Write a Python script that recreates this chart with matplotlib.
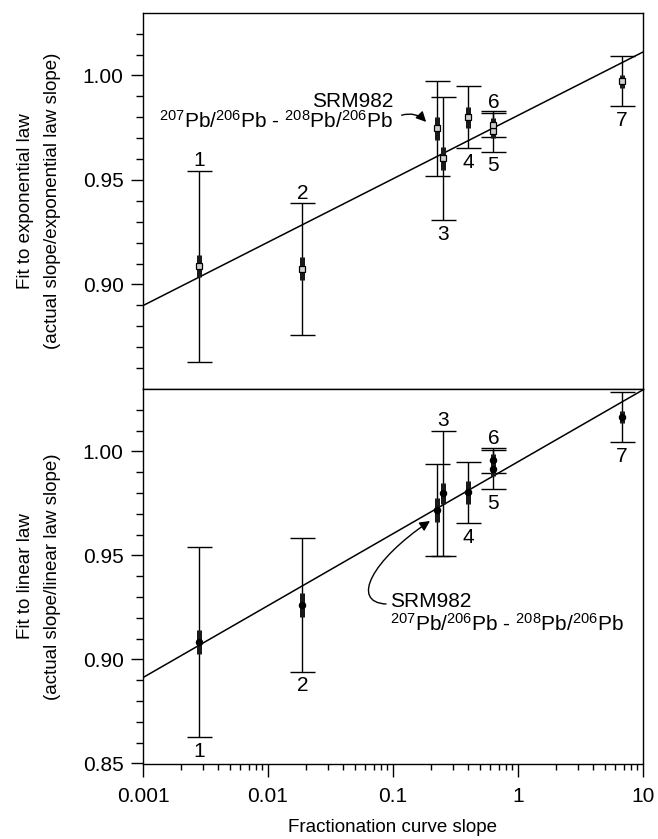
import numpy as np
import matplotlib
matplotlib.use('Agg')
import matplotlib.pyplot as plt
from matplotlib.ticker import FixedLocator, LogLocator, NullFormatter, FormatStrFormatter
from matplotlib.patches import FancyArrowPatch
from matplotlib.path import Path

plt.rcParams['font.family'] = ['Liberation Sans', 'DejaVu Sans']
plt.rcParams['mathtext.fontset'] = 'custom'
plt.rcParams['mathtext.rm'] = 'Liberation Sans'
plt.rcParams['mathtext.it'] = 'Liberation Sans:italic'
plt.rcParams['mathtext.bf'] = 'Liberation Sans:bold'

# ---------------- data ----------------
point_labels = ['1', '2', '3', '4', '5', '6', '7']
frac_slope = [0.0028, 0.0188, 0.253, 0.40, 0.635, 0.635, 6.76]

exp_fit = [0.9087, 0.9075, 0.9604, 0.9800, 0.9732, 0.9764, 0.9972]
exp_err_outer = [0.0458, 0.0315, 0.0294, 0.0148, 0.0096, 0.0058, 0.0119]
exp_err_inner = [0.0053, 0.0055, 0.0055, 0.0050, 0.0030, 0.0030, 0.0030]

lin_fit = [0.9084, 0.9262, 0.9798, 0.9803, 0.9914, 0.9957, 1.0165]
lin_err_outer = [0.0458, 0.0320, 0.0302, 0.0147, 0.0094, 0.0059, 0.0120]
lin_err_inner = [0.0056, 0.0057, 0.0052, 0.0055, 0.0030, 0.0030, 0.0030]

srm_slope = [0.226]
srm_exp = [0.9747]
srm_exp_outer = [0.0227]
srm_exp_inner = [0.0056]
srm_lin = [0.9717]
srm_lin_outer = [0.0221]
srm_lin_inner = [0.0057]

fit_x = [0.001, 10]
exp_line = [0.8899, 1.0112]
lin_line = [0.8913, 1.0296]

exp_label_side = ['above', 'above', 'below', 'below', 'below', 'above', 'below']
lin_label_side = ['below', 'below', 'above', 'below', 'below', 'above', 'below']

# ---------------- figure ----------------
W, H = 658, 839
fig = plt.figure(figsize=(W / 100, H / 100), dpi=100)

def fx(px):
    return px / W

def fy(py):
    return 1 - py / H

left, right = 143, 643
top1, mid, bot2 = 12.7, 389, 763.5
ax1 = fig.add_axes([fx(left), fy(mid), (right - left) / W, (mid - top1) / H])
ax2 = fig.add_axes([fx(left), fy(bot2), (right - left) / W, (bot2 - mid) / H])

def style_axis(ax, majors, show_x):
    ax.set_xscale('log')
    ax.set_xlim(0.001, 10)
    ax.set_ylim(0.85, 1.03)
    ax.yaxis.set_major_locator(FixedLocator(majors))
    minors = [round(v, 2) for v in np.arange(0.86, 1.025, 0.01)
              if all(abs(v - m) > 1e-6 for m in majors)]
    ax.yaxis.set_minor_locator(FixedLocator(minors))
    ax.yaxis.set_major_formatter(FormatStrFormatter('%.2f'))
    for s in ax.spines.values():
        s.set_linewidth(1.0)
    ax.tick_params(axis='y', which='major', direction='out', length=9, width=1,
                   labelsize=15, pad=5, right=False)
    ax.tick_params(axis='y', which='minor', direction='out', length=4.8, width=1,
                   right=False)
    if show_x:
        ax.xaxis.set_minor_locator(LogLocator(base=10, subs=np.arange(2, 10), numticks=20))
        ax.xaxis.set_minor_formatter(NullFormatter())
        ax.set_xticks([0.001, 0.01, 0.1, 1, 10])
        ax.set_xticklabels(['0.001', '0.01', '0.1', '1', '10'])
        ax.tick_params(axis='x', which='major', direction='out', length=9, width=1,
                       labelsize=15, pad=8, top=False)
        ax.tick_params(axis='x', which='minor', direction='out', length=4.5, width=1,
                       top=False)
    else:
        ax.tick_params(axis='x', which='both', bottom=False, top=False,
                       labelbottom=False)

style_axis(ax1, [0.90, 0.95, 1.00], False)
style_axis(ax2, [0.85, 0.90, 0.95, 1.00], True)

def draw_panel(ax, x, y, eo, ei, sx, sy, seo, sei, line_y, marker, mfc, ms, sides):
    ax.plot(fit_x, line_y, color='black', lw=1.1, zorder=2)
    xs = list(x) + list(sx)
    ys = list(y) + list(sy)
    eos = list(eo) + list(seo)
    eis = list(ei) + list(sei)
    ax.errorbar(xs, ys, yerr=eos, fmt='none', ecolor='black', elinewidth=1.0,
                capsize=9, capthick=1.0, zorder=3)
    ax.errorbar(xs, ys, yerr=eis, fmt='none', ecolor='#1a1a1a', elinewidth=3.6,
                capsize=0, zorder=4)
    ax.plot(xs, ys, linestyle='none', marker=marker, ms=ms, mfc=mfc, mec='black',
            mew=0.9, zorder=5)
    for lab, xi, yi, e, side in zip(point_labels, x, y, eo, sides):
        if side == 'above':
            ax.annotate(lab, (xi, yi + e), xytext=(0, 3), textcoords='offset points',
                        ha='center', va='baseline', fontsize=15)
        else:
            ax.annotate(lab, (xi, yi - e), xytext=(0, -3.5), textcoords='offset points',
                        ha='center', va='top', fontsize=15)

draw_panel(ax1, frac_slope, exp_fit, exp_err_outer, exp_err_inner,
           srm_slope, srm_exp, srm_exp_outer, srm_exp_inner, exp_line,
           's', '#d0d0d0', 4.5, exp_label_side)
draw_panel(ax2, frac_slope, lin_fit, lin_err_outer, lin_err_inner,
           srm_slope, srm_lin, srm_lin_outer, srm_lin_inner, lin_line,
           'o', 'black', 4.5, lin_label_side)

pb_text = r'$^{207}$Pb/$^{206}$Pb - $^{208}$Pb/$^{206}$Pb'

# top annotation
fig.text(fx(393), fy(107), 'SRM982', ha='right', va='baseline', fontsize=15)
fig.text(fx(393), fy(127.5), pb_text, ha='right', va='baseline', fontsize=15)
arr1 = FancyArrowPatch((fx(399), fy(116)), (fx(428), fy(124)),
                       transform=fig.transFigure, connectionstyle='arc3,rad=-0.35',
                       arrowstyle='-|>,head_length=0.6,head_width=0.3',
                       mutation_scale=10, lw=1.0, color='black')
fig.add_artist(arr1)

# bottom annotation
fig.text(fx(390), fy(607.3), 'SRM982', ha='left', va='baseline', fontsize=15)
fig.text(fx(390), fy(630.7), pb_text, ha='left', va='baseline', fontsize=15)
verts = [(fx(386), fy(604)), (fx(350), fy(602)), (fx(372), fy(560)), (fx(430), fy(521))]
codes = [Path.MOVETO, Path.CURVE4, Path.CURVE4, Path.CURVE4]
arr2 = FancyArrowPatch(path=Path(verts, codes), transform=fig.transFigure,
                       arrowstyle='-|>,head_length=0.6,head_width=0.3',
                       mutation_scale=10, lw=1.0, color='black')
fig.add_artist(arr2)

# axis labels
fig.text(fx(26), fy((top1 + mid) / 2), 'Fit to exponential law', rotation=90,
         ha='center', va='center', fontsize=13.5)
fig.text(fx(53), fy((top1 + mid) / 2), '(actual slope/exponential law slope)',
         rotation=90, ha='center', va='center', fontsize=13.5)
fig.text(fx(26), fy((mid + bot2) / 2), 'Fit to linear law', rotation=90,
         ha='center', va='center', fontsize=13.5)
fig.text(fx(53), fy((mid + bot2) / 2), '(actual slope/linear law slope)',
         rotation=90, ha='center', va='center', fontsize=13.5)
fig.text(fx(393), fy(827), 'Fractionation curve slope', ha='center', va='center',
         fontsize=13.5)

fig.savefig('out.png', dpi=100)
